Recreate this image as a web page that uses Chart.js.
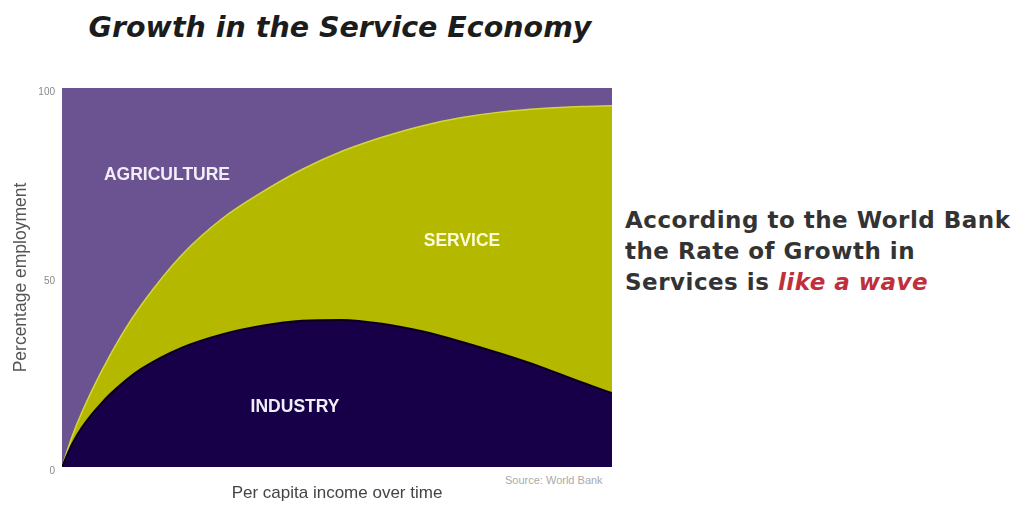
<!DOCTYPE html>
<html>
<head>
<meta charset="utf-8">
<script src="https://cdn.jsdelivr.net/npm/chart.js@4.4.1/dist/chart.umd.min.js"></script>
<style>
  body { margin: 0; background: #fff; }
  #page { position: relative; width: 1027px; height: 506px; overflow: hidden; }
  #title {
    position: absolute; left: 0; width: 680px; top: 11px; text-align: center;
    font: italic bold 28.5px "DejaVu Sans", sans-serif; color: #1c1c1c;
  }
  #note {
    position: absolute; left: 625px; top: 205px; width: 402px;
    font: bold 23px "DejaVu Sans", sans-serif; color: #333; line-height: 31px;
    letter-spacing: 0.5px;
  }
  #note em { color: #c0303c; }
  #source {
    position: absolute; left: 505px; top: 474px;
    font: 11px "Liberation Sans", sans-serif; color: #aaa;
  }
  #wrap { position: absolute; left: 0; top: 60px; width: 640px; height: 446px; }
</style>
</head>
<body>
<div id="page">
  <div id="title">Growth in the Service Economy</div>
  <div id="note">According to the World Bank<br>the Rate of Growth in<br>Services is <em>like a wave</em></div>
  <div id="source">Source: World Bank</div>
  <div id="wrap"><canvas id="chart"></canvas></div>
</div>
<script>
// income steps (arbitrary units along the x axis)
const incomeSteps = [0, 1, 2, 4, 6, 8, 12, 16, 20, 24, 28, 32, 36, 40, 44, 48, 52, 55];
// share of employment, percent
const industry    = [0, 6, 10.5, 17, 22, 26, 31.5, 35, 37.3, 38.6, 38.8, 37.8, 35.8, 33, 29.8, 26.3, 22.3, 19.5];
const service     = [0, 2, 4, 8.5, 13, 17, 24.5, 30.5, 35.2, 39.9, 44.5, 49.2, 54.2, 59.2, 63.9, 68.3, 72.8, 75.8];
const agriculture = [100, 92, 85.5, 74.5, 65, 57, 44, 34.5, 27.5, 21.5, 16.7, 13, 10, 7.8, 6.3, 5.4, 4.9, 4.7];
const yTicks = [0, 50, 100];

const toPoints = (arr) => incomeSteps.map((x, i) => ({ x: x, y: arr[i] }));

// sector names written inside the areas
const areaLabels = [
  { text: "AGRICULTURE", x: 10.5, y: 77, color: "#f2eef8" },
  { text: "SERVICE", x: 40, y: 59.5, color: "#fbfbd8" },
  { text: "INDUSTRY", x: 23.3, y: 15.8, color: "#f0eef8" },
];

const labelPlugin = {
  id: "areaLabels",
  afterDatasetsDraw(chart) {
    const { ctx, scales } = chart;
    ctx.save();
    ctx.font = "bold 17.5px 'Liberation Sans', Arial, sans-serif";
    ctx.textAlign = "center";
    ctx.textBaseline = "middle";
    areaLabels.forEach((l) => {
      ctx.fillStyle = l.color;
      ctx.fillText(l.text, scales.x.getPixelForValue(l.x), scales.y.getPixelForValue(l.y));
    });
    ctx.restore();
  },
};

new Chart(document.getElementById("chart"), {
  type: "line",
  data: {
    datasets: [
      {
        label: "Industry",
        data: toPoints(industry),
        backgroundColor: "#170047",
        borderColor: "#0a0018",
        borderWidth: 2,
        fill: "origin",
      },
      {
        label: "Service",
        data: toPoints(service),
        backgroundColor: "#b4b900",
        borderColor: "#d2d63a",
        borderWidth: 1.5,
        fill: "-1",
      },
      {
        label: "Agriculture",
        data: toPoints(agriculture),
        backgroundColor: "#6b5392",
        borderColor: "#6b5392",
        borderWidth: 0,
        fill: "-1",
      },
    ],
  },
  options: {
    responsive: true,
    maintainAspectRatio: false,
    animation: false,
    layout: { padding: { top: 28, right: 28, left: 0, bottom: 0 } },
    elements: {
      point: { radius: 0 },
      line: { cubicInterpolationMode: "monotone" },
    },
    plugins: {
      legend: { display: false },
      tooltip: { enabled: false },
    },
    scales: {
      x: {
        type: "linear",
        min: 0,
        max: 55,
        grid: { display: false },
        border: { display: false },
        ticks: { display: false },
        title: {
          display: true,
          text: "Per capita income over time",
          color: "#444",
          font: { family: "'Liberation Sans', Arial, sans-serif", size: 17 },
          padding: { top: 0, bottom: 2 },
        },
        afterFit: (scale) => { scale.height = 39; },
      },
      y: {
        stacked: true,
        min: 0,
        max: 100,
        afterBuildTicks: (scale) => { scale.ticks = yTicks.map((v) => ({ value: v })); },
        grid: { display: false, drawTicks: false },
        border: { display: false },
        ticks: {
          color: "#888",
          padding: 7,
          labelOffset: 4,
          font: { family: "'Liberation Sans', Arial, sans-serif", size: 10 },
        },
        title: {
          display: true,
          text: "Percentage employment",
          color: "#555",
          font: { family: "'Liberation Sans', Arial, sans-serif", size: 17.5 },
          padding: { top: 11, bottom: 0 },
        },
        afterFit: (scale) => { scale.width = 62; },
      },
    },
  },
  plugins: [labelPlugin],
});
</script>
</body>
</html>
